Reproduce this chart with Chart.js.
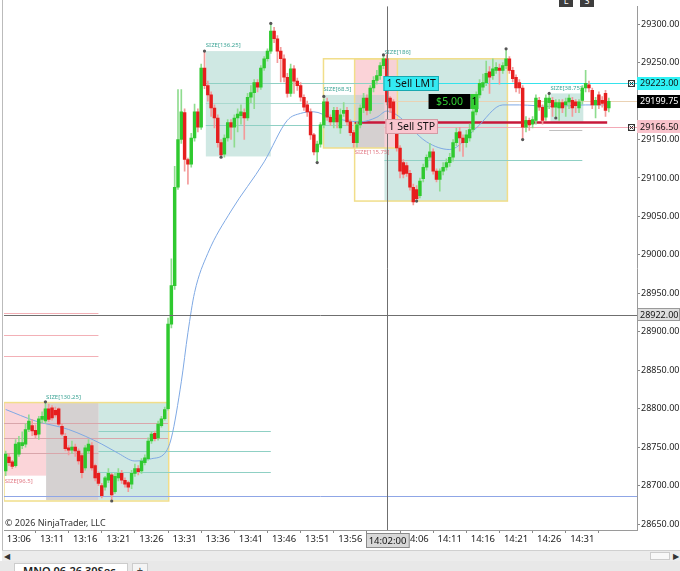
<!DOCTYPE html>
<html lang="en">
<head>
<meta charset="UTF-8">
<title>MNQ 06-26 30Sec</title>
<script src="https://cdn.jsdelivr.net/npm/chart.js"></script>
<style>
  body { margin: 0; background: #fff; width: 680px; height: 571px; overflow: hidden; font-family: "Noto Sans", sans-serif; }
  #wrap { position: relative; width: 680px; height: 550px; }
  #wrap:before { content: ""; position: absolute; left: 2px; top: 0; bottom: 0; border-left: 1px solid #bbb; }
  .btn { position: absolute; top: -6px; width: 14px; height: 13px; background: #3d3d3d; color: #fff; font-size: 9px; line-height: 13px; text-align: center; }
  #scroll { position: absolute; top: 550px; left: 2px; width: 678px; height: 10px; background: #ececec; border-top: 1px solid #d0d0d0; font-size: 8px; line-height: 10px; color: #333; }
  #thumb { position: absolute; right: 10px; top: 1px; width: 20px; height: 8px; background: #f8f8f8; border: 1px solid #ccc; box-sizing: border-box; }
  #tabs { position: absolute; top: 561px; left: 0; width: 680px; height: 10px; background: #e8e8e8; }
  #tab { position: absolute; left: 14px; top: 2px; width: 114px; height: 12px; background: #fff; border: 1px solid #ccc; border-bottom: none; font-size: 11px; font-weight: 600; line-height: 14px; padding-left: 8px; box-sizing: border-box; color: #222; }
  #plus { position: absolute; left: 132px; top: 2px; width: 14px; height: 12px; background: #f4f4f4; border: 1px solid #ccc; font-size: 11px; line-height: 12px; text-align: center; color: #444; }
</style>
</head>
<body>
<div id="wrap">
  <canvas id="chart" width="680" height="550"></canvas>
  <div class="btn" style="left:559px">L</div>
  <div class="btn" style="left:580px">S</div>
</div>
<div id="scroll"><span style="position:absolute;left:2px">&#9664;</span><div id="thumb"></div><span style="position:absolute;right:1px">&#9654;</span></div>
<div id="tabs"><div id="tab">MNQ 06-26 30Sec</div><div id="plus">+</div></div>

<script>
// 30-second bars
const barTimes = [
  '13:04:00','13:04:30','13:05:00','13:05:30','13:06:00','13:06:30','13:07:00','13:07:30','13:08:00','13:08:30',
  '13:09:00','13:09:30','13:10:00','13:10:30','13:11:00','13:11:30','13:12:00','13:12:30','13:13:00','13:13:30',
  '13:14:00','13:14:30','13:15:00','13:15:30','13:16:00','13:16:30','13:17:00','13:17:30','13:18:00','13:18:30',
  '13:19:00','13:19:30','13:20:00','13:20:30','13:21:00','13:21:30','13:22:00','13:22:30','13:23:00','13:23:30',
  '13:24:00','13:24:30','13:25:00','13:25:30','13:26:00','13:26:30','13:27:00','13:27:30','13:28:00','13:28:30',
  '13:29:00','13:29:30','13:30:00','13:30:30','13:31:00','13:31:30','13:32:00','13:32:30','13:33:00','13:33:30',
  '13:34:00','13:34:30','13:35:00','13:35:30','13:36:00','13:36:30','13:37:00','13:37:30','13:38:00','13:38:30',
  '13:39:00','13:39:30','13:40:00','13:40:30','13:41:00','13:41:30','13:42:00','13:42:30','13:43:00','13:43:30',
  '13:44:00','13:44:30','13:45:00','13:45:30','13:46:00','13:46:30','13:47:00','13:47:30','13:48:00','13:48:30',
  '13:49:00','13:49:30','13:50:00','13:50:30','13:51:00','13:51:30','13:52:00','13:52:30','13:53:00','13:53:30',
  '13:54:00','13:54:30','13:55:00','13:55:30','13:56:00','13:56:30','13:57:00','13:57:30','13:58:00','13:58:30',
  '13:59:00','13:59:30','14:00:00','14:00:30','14:01:00','14:01:30','14:02:00','14:02:30','14:03:00','14:03:30',
  '14:04:00','14:04:30','14:05:00','14:05:30','14:06:00','14:06:30','14:07:00','14:07:30','14:08:00','14:08:30',
  '14:09:00','14:09:30','14:10:00','14:10:30','14:11:00','14:11:30','14:12:00','14:12:30','14:13:00','14:13:30',
  '14:14:00','14:14:30','14:15:00','14:15:30','14:16:00','14:16:30','14:17:00','14:17:30','14:18:00','14:18:30',
  '14:19:00','14:19:30','14:20:00','14:20:30','14:21:00','14:21:30','14:22:00','14:22:30','14:23:00','14:23:30',
  '14:24:00','14:24:30','14:25:00','14:25:30','14:26:00','14:26:30','14:27:00','14:27:30','14:28:00','14:28:30',
  '14:29:00','14:29:30','14:30:00','14:30:30','14:31:00','14:31:30','14:32:00','14:32:30','14:33:00','14:33:30',
  '14:34:00','14:34:30','14:35:00','14:35:30','14:36:00','14:36:30','14:37:00','14:37:30','14:38:00','14:38:30',
  '14:39:00'
];
const tickTimes = ['13:06:00','13:11:00','13:16:00','13:21:00','13:26:00','13:31:00','13:36:00','13:41:00','13:46:00',
  '13:51:00','13:56:00','14:01:00','14:06:00','14:11:00','14:16:00','14:21:00','14:26:00','14:31:00'];
const yTicks = [28650, 28700, 28750, 28800, 28850, 28900, 28950, 29000, 29050, 29100, 29150, 29200, 29250, 29300];

const opens = [
  28719,28737,28731,28726,28741,28752,28754,28773,28778,28772,
  28767,28786,28784,28800,28801,28798,28800,28777,28764,28749,
  28746,28750,28745,28739,28723,28745,28752,28726,28716,28700,
  28698,28707,28714,28692,28710,28716,28707,28704,28702,28716,
  28722,28719,28730,28735,28758,28768,28762,28778,28787,28800,
  28910,28960,29088,29150,29185,29124,29118,29152,29186,29166,
  29243,29220,29208,29191,29178,29146,29131,29152,29172,29166,
  29178,29181,29185,29178,29205,29211,29224,29218,29243,29255,
  29265,29291,29281,29265,29255,29231,29210,29242,29226,29220,
  29205,29195,29186,29156,29134,29144,29169,29199,29179,29173,
  29188,29165,29184,29188,29173,29159,29146,29169,29191,29204,
  29188,29217,29227,29233,29246,29255,29204,29199,29160,29139,
  29120,29116,29106,29088,29085,29077,29099,29114,29127,29134,
  29109,29098,29109,29114,29120,29127,29146,29160,29152,29146,
  29152,29163,29186,29208,29218,29224,29238,29233,29240,29243,
  29240,29246,29255,29240,29231,29224,29217,29166,29175,29170,
  29175,29201,29192,29179,29198,29201,29192,29191,29198,29195,
  29199,29201,29199,29191,29201,29217,29221,29214,29195,29208,
  29201,29210,29191
];
const highs = [
  28745,28742,28733,28760,28764,28770,28780,28792,28786,28779,
  28790,28796,28809,28806,28804,28802,28801,28780,28768,28752,
  28758,28754,28748,28741,28752,28760,28756,28728,28718,28703,
  28712,28722,28716,28716,28722,28720,28710,28706,28720,28728,
  28726,28735,28740,28762,28770,28771,28784,28790,28802,28918,
  28995,29115,29215,29215,29190,29126,29158,29196,29190,29248,
  29265,29226,29212,29195,29182,29150,29156,29176,29176,29182,
  29190,29195,29190,29210,29220,29228,29228,29246,29258,29268,
  29301,29296,29285,29270,29260,29236,29248,29246,29230,29224,
  29208,29200,29190,29158,29148,29172,29203,29204,29182,29192,
  29192,29190,29198,29192,29176,29162,29173,29195,29210,29208,
  29220,29232,29240,29250,29260,29260,29206,29202,29165,29142,
  29124,29120,29110,29092,29090,29100,29118,29130,29145,29138,
  29112,29112,29120,29125,29132,29150,29165,29166,29156,29162,
  29170,29190,29212,29228,29235,29252,29245,29255,29250,29248,
  29250,29268,29258,29244,29234,29228,29220,29180,29178,29180,
  29208,29205,29195,29208,29210,29205,29202,29202,29202,29204,
  29208,29205,29202,29202,29220,29240,29226,29217,29205,29212,
  29206,29214,29204
];
const lows = [
  28713,28726,28722,28724,28738,28748,28750,28770,28765,28762,
  28760,28782,28781,28783,28785,28789,28778,28765,28745,28740,
  28742,28738,28728,28710,28720,28742,28720,28706,28700,28684,
  28694,28704,28680,28690,28706,28703,28698,28692,28696,28712,
  28714,28716,28727,28733,28755,28758,28759,28776,28785,28798,
  28905,28955,29085,29145,29109,29092,29114,29148,29160,29163,
  29216,29200,29180,29165,29140,29127,29127,29148,29150,29140,
  29160,29170,29150,29175,29198,29190,29212,29215,29240,29252,
  29262,29276,29250,29225,29225,29205,29206,29210,29214,29200,
  29188,29180,29150,29130,29120,29140,29165,29175,29168,29165,
  29165,29158,29180,29168,29155,29140,29140,29165,29185,29182,
  29184,29212,29222,29228,29242,29195,29185,29170,29135,29100,
  29100,29102,29084,29065,29070,29074,29095,29110,29124,29105,
  29095,29083,29104,29110,29115,29122,29142,29135,29128,29140,
  29148,29160,29182,29204,29214,29220,29210,29228,29236,29222,
  29236,29242,29236,29225,29212,29210,29150,29160,29162,29165,
  29170,29188,29170,29175,29190,29180,29178,29175,29185,29180,
  29190,29180,29185,29185,29196,29212,29212,29190,29178,29190,
  29192,29180,29186
];
const closes = [
  28741,28730,28725,28754,28756,28756,28773,28784,28771,28766,
  28787,28790,28800,28786,28788,28792,28780,28767,28748,28746,
  28750,28745,28732,28717,28749,28754,28723,28710,28703,28687,
  28710,28716,28688,28712,28716,28707,28702,28698,28716,28722,
  28718,28732,28736,28758,28767,28761,28780,28787,28799,28910,
  28960,29088,29150,29186,29124,29118,29152,29186,29166,29243,
  29220,29208,29191,29178,29146,29130,29152,29172,29166,29178,
  29183,29186,29178,29205,29211,29224,29218,29243,29255,29265,
  29291,29281,29265,29255,29231,29210,29242,29226,29220,29205,
  29192,29186,29156,29134,29144,29169,29199,29179,29173,29188,
  29173,29182,29188,29173,29159,29146,29169,29191,29204,29188,
  29217,29227,29233,29246,29255,29199,29191,29173,29139,29109,
  29105,29106,29088,29069,29073,29096,29114,29127,29134,29109,
  29098,29109,29114,29120,29127,29146,29159,29152,29146,29156,
  29163,29186,29208,29223,29224,29236,29231,29242,29244,29240,
  29246,29255,29240,29229,29217,29217,29166,29175,29169,29176,
  29204,29192,29175,29204,29204,29192,29198,29198,29191,29199,
  29204,29191,29194,29199,29217,29223,29217,29195,29201,29195,
  29197,29188,29199.75
];

// moving average: [bar, price]
const emaPts = [[0,28799],[9,28784],[19,28773],[29,28754],[34,28742],[39,28732],[44,28735],[48,28742],
  [50,28762],[53,28835],[55,28899],[57,28951],[61,29002],[68,29057],[78,29121],[85,29175],[89,29184],
  [93,29186],[98,29179],[107,29173],[112,29179],[115,29187],[118,29182],[127,29147],[134,29137],
  [142,29165],[150,29195],[155,29195],[165,29193],[175,29195],[182,29195]];
// swing markers: [bar, price]
const swingPts = [[12,28809],[32,28680],[60,29265],[65,29127],[80,29301],[94,29120],[96,29206],
  [114,29260],[124,29070],[151,29268],[156,29150],[164,29210],[166,29178]];

const lastPrice = 29199.75;
const sellLimit = 29223;
const sellStop = 29166.5;
const crossIdx = 115;
const crossPrice = 28922;
const crossTime = '14:02:00';

// zones in bar index / price units
const zones = [
  {x0: -0.5, x1: 12.2, top: 28808, bot: 28713, fill: '#fbd5d9'},
  {x0: 12.2, x1: 28.1, top: 28808, bot: 28681, fill: '#d5d1d1'},
  {x0: 28.1, x1: 49.2, top: 28808, bot: 28681, fill: '#cfe8e3'},
  {x0: -0.5, x1: 49.2, top: 28808, bot: 28680, stroke: '#f1de8a'},
  {x0: 60.4, x1: 80.0, top: 29265, bot: 29128, fill: '#cfe8e3'},
  {x0: 114.3, x1: 151.4, top: 29255, bot: 29070, fill: '#cfe8e3'},
  {x0: 95.9, x1: 105.3, top: 29208, bot: 29139, fill: '#cfe8e3'},
  {x0: 105.3, x1: 118.2, top: 29255, bot: 29139, fill: 'rgba(251,206,212,0.9)'},
  {x0: 105.3, x1: 114.3, top: 29208, bot: 29139, fill: '#d5d0d0'},
  {x0: 95.9, x1: 118.2, top: 29255, bot: 29139, stroke: '#f1de8a'},
  {x0: 105.3, x1: 151.4, top: 29255, bot: 29070, stroke: '#f1de8a'},
  {x0: 164.4, x1: 174.3, top: 29210, bot: 29173, fill: '#cfe8e3'}
];
const levels = [
  {p: 28924, x0: -0.5, x1: 28, c: '#f3b0b6'},
  {p: 28896, x0: -0.5, x1: 28, c: '#f3b0b6'},
  {p: 28869, x0: -0.5, x1: 28, c: '#f3b0b6'},
  {p: 28781, x0: -0.5, x1: 49, c: '#d9a6ab'},
  {p: 28762, x0: -0.5, x1: 49, c: '#d9a6ab'},
  {p: 28743, x0: -0.5, x1: 28, c: '#d9a6ab'},
  {p: 28771, x0: 28, x1: 80, c: '#8fd0c4'},
  {p: 28745, x0: 28, x1: 80, c: '#8fd0c4'},
  {p: 28718, x0: 28, x1: 80, c: '#8fd0c4'},
  {p: 28686, x0: -0.5, x1: 190.5, c: '#8fa6e6'},
  {p: 29224, x0: 60.4, x1: 114, c: '#8fd0c4'},
  {p: 29197, x0: 60.4, x1: 114, c: '#a9d9cf'},
  {p: 29169, x0: 60.4, x1: 105, c: '#8fd0c4'},
  {p: 29124, x0: 114.3, x1: 174, c: '#8fd0c4'},
  {p: 29163, x0: 164, x1: 174, c: '#c0c0c0'},
  {p: lastPrice, x0: 114.3, x1: 190.5, c: '#ead2b4'},
  {p: sellLimit, x0: 114.3, x1: 190.5, c: '#35e3ec'},
  {p: sellStop, x0: 114.3, x1: 190.5, c: '#f3a9b6'},
  {p: 29173, x0: 105.3, x1: 181.5, c: '#c8183a', w: 2.5}
];
const sizeLabels = [
  {t: 'SIZE[130.25]', i: 12.2, p: 28813, c: '#3fa597'},
  {t: 'SIZE[96.5]', i: -0.3, p: 28704, c: '#e27a86'},
  {t: 'SIZE[136.25]', i: 60.4, p: 29270, c: '#3fa597'},
  {t: 'SIZE[186]', i: 114.3, p: 29261, c: '#3fa597'},
  {t: 'SIZE[68.5]', i: 95.9, p: 29213, c: '#3fa597'},
  {t: 'SIZE[115.75]', i: 105.3, p: 29131, c: '#e27a86'},
  {t: 'SIZE[38.75]', i: 164.4, p: 29215, c: '#3fa597'}
];

const UP = '#2fc92f', DN = '#e61e1e', UPW = '#8fdc8f', DNW = '#f39a9a';
const isUp = i => closes[i] >= opens[i];
const FONT = '"Noto Sans", sans-serif';

function box(ctx, x, y, w, h, fill, stroke) {
  ctx.fillStyle = fill;
  ctx.fillRect(x, y, w, h);
  if (stroke) { ctx.strokeStyle = stroke; ctx.lineWidth = 1; ctx.strokeRect(x + 0.5, y + 0.5, w - 1, h - 1); }
}

const overlay = {
  id: 'ntOverlay',
  beforeDatasetsDraw(chart) {
    const {ctx, chartArea: a, scales: {x, y}} = chart;
    ctx.save();
    ctx.beginPath(); ctx.rect(a.left, a.top, a.right - a.left, a.bottom - a.top); ctx.clip();
    zones.forEach(z => {
      const x0 = x.getPixelForValue(z.x0), x1 = x.getPixelForValue(z.x1);
      const y0 = y.getPixelForValue(z.top), y1 = y.getPixelForValue(z.bot);
      if (z.fill) { ctx.fillStyle = z.fill; ctx.fillRect(x0, y0, x1 - x0, y1 - y0); }
      if (z.stroke) { ctx.strokeStyle = z.stroke; ctx.lineWidth = 1.5; ctx.strokeRect(x0, y0, x1 - x0, y1 - y0); }
    });
    levels.forEach(l => {
      const yy = Math.round(y.getPixelForValue(l.p)) + 0.5;
      ctx.strokeStyle = l.c; ctx.lineWidth = l.w || 1;
      ctx.beginPath(); ctx.moveTo(x.getPixelForValue(l.x0), yy); ctx.lineTo(x.getPixelForValue(l.x1), yy); ctx.stroke();
    });
    ctx.font = '6px ' + FONT; ctx.textBaseline = 'alphabetic';
    sizeLabels.forEach(s => { ctx.fillStyle = s.c; ctx.fillText(s.t, x.getPixelForValue(s.i), y.getPixelForValue(s.p)); });
    ctx.restore();
  },
  afterDatasetsDraw(chart) {
    const {ctx, chartArea: a, scales: {x, y}} = chart;
    ctx.save();
    // crosshair
    const cx = Math.round(x.getPixelForValue(crossIdx)) + 0.5, cy = Math.round(y.getPixelForValue(crossPrice)) + 0.5;
    ctx.strokeStyle = '#6f6f6f'; ctx.lineWidth = 1;
    ctx.beginPath(); ctx.moveTo(cx, a.top); ctx.lineTo(cx, a.bottom); ctx.moveTo(a.left, cy); ctx.lineTo(a.right, cy); ctx.stroke();

    // order tags
    ctx.font = '10.5px ' + FONT; ctx.textBaseline = 'middle';
    const tag = (text, i, p, bg, border) => {
      const w = ctx.measureText(text).width + 6, h = 15;
      const bx = x.getPixelForValue(i), by = Math.round(y.getPixelForValue(p) - h / 2);
      box(ctx, bx, by, w, h, bg, border);
      ctx.fillStyle = '#111'; ctx.fillText(text, bx + 3, by + h / 2 + 0.5);
    };
    tag('1 Sell LMT', 114.0, sellLimit, '#33eaf2', '#19a9b0');
    tag('1 Sell STP', 114.6, sellStop, '#f9c6cf', '#d49aa4');
    // pnl tag
    const py = Math.round(y.getPixelForValue(lastPrice) - 7.5);
    const px0 = x.getPixelForValue(127.6);
    box(ctx, px0, py, 42, 15, '#000');
    ctx.fillStyle = '#34d234'; ctx.textAlign = 'center'; ctx.fillText('$5.00', px0 + 21, py + 8);
    box(ctx, px0 + 42, py, 8, 15, '#32cd32');
    ctx.fillStyle = '#000'; ctx.fillText('1', px0 + 46, py + 8);
    ctx.textAlign = 'left';

    // copyright
    ctx.font = '9px ' + FONT; ctx.fillStyle = '#333'; ctx.textBaseline = 'alphabetic';
    ctx.fillText('\u00a9 2026 NinjaTrader, LLC', a.left + 1, a.bottom - 4);

    // right axis tags
    const rtag = (p, text, bg, fg, border, mark) => {
      const yc = y.getPixelForValue(p), h = 13, bx = a.right;
      box(ctx, bx, Math.round(yc - h / 2), chart.width - bx, h, bg, border);
      ctx.font = '9px ' + FONT; ctx.fillStyle = fg; ctx.textBaseline = 'middle';
      ctx.fillText(text, bx + 3, yc + 0.5);
      if (mark) {
        const mx = a.right - 9, my = Math.round(yc) - 3;
        ctx.strokeStyle = '#333'; ctx.lineWidth = 1;
        ctx.strokeRect(mx + 0.5, my + 0.5, 6, 6);
        ctx.beginPath(); ctx.moveTo(mx + 1.5, my + 1.5); ctx.lineTo(mx + 5.5, my + 5.5);
        ctx.moveTo(mx + 5.5, my + 1.5); ctx.lineTo(mx + 1.5, my + 5.5); ctx.stroke();
      }
    };
    rtag(sellLimit, sellLimit.toFixed(2), '#2ef2f5', '#111', null, true);
    rtag(lastPrice, lastPrice.toFixed(2), '#000', '#fff', null, false);
    rtag(sellStop, sellStop.toFixed(2), '#f9c3cc', '#111', null, true);
    rtag(crossPrice, crossPrice.toFixed(2), '#dedede', '#111', '#9a9a9a', false);

    // x crosshair tag
    ctx.font = '9.5px ' + FONT;
    const tw = ctx.measureText(crossTime).width + 6;
    box(ctx, Math.round(cx - tw / 2), a.bottom + 3, tw, 15, '#d8d8d8', '#8a8a8a');
    ctx.fillStyle = '#111'; ctx.textAlign = 'center'; ctx.textBaseline = 'middle';
    ctx.fillText(crossTime, cx, a.bottom + 11);
    ctx.restore();
  }
};

Chart.defaults.font.family = FONT;
const ctx = document.getElementById('chart').getContext('2d');
new Chart(ctx, {
  data: {
    labels: barTimes,
    datasets: [
      {
        type: 'line', order: 0,
        data: swingPts.map(([i, p]) => ({x: barTimes[i], y: p})),
        showLine: false, pointRadius: 1.6, pointBackgroundColor: '#555', pointBorderWidth: 0
      },
      {
        type: 'bar', order: 1, grouped: false,
        data: opens.map((o, i) => [o, closes[i]]),
        barThickness: 2.8,
        backgroundColor: c => isUp(c.dataIndex) ? UP : DN
      },
      {
        type: 'bar', order: 2, grouped: false,
        data: lows.map((l, i) => [l, highs[i]]),
        barThickness: 1,
        backgroundColor: c => isUp(c.dataIndex) ? UPW : DNW
      },
      {
        type: 'line', order: 3,
        data: emaPts.map(([i, p]) => ({x: barTimes[i], y: p})),
        borderColor: '#7fa9e4', borderWidth: 1, pointRadius: 0,
        cubicInterpolationMode: 'monotone'
      }
    ]
  },
  options: {
    responsive: false,
    animation: false,
    events: [],
    devicePixelRatio: 1,
    layout: {padding: {left: 3, top: 0, right: 0, bottom: 0}},
    plugins: {legend: {display: false}, tooltip: {enabled: false}},
    scales: {
      x: {
        type: 'category', offset: true,
        grid: {drawOnChartArea: false, tickLength: 3, color: '#888'},
        border: {color: '#9a9a9a'},
        ticks: {
          autoSkip: false, maxRotation: 0, padding: 1, color: '#222', font: {size: 9.5},
          callback: v => barTimes[v].slice(0, 5)
        },
        afterBuildTicks: s => { s.ticks = s.ticks.filter(t => tickTimes.includes(barTimes[t.value])); },
        afterFit: s => { s.height = 20; }
      },
      y: {
        position: 'right', min: 28642.3, max: 29323.1,
        grid: {drawOnChartArea: false, tickLength: 3, color: '#888'},
        border: {color: '#9a9a9a'},
        ticks: {padding: 1, color: '#222', font: {size: 9}, callback: v => Number(v).toFixed(2)},
        afterBuildTicks: s => { s.ticks = yTicks.map(v => ({value: v})); },
        afterFit: s => { s.width = 43; }
      }
    }
  },
  plugins: [overlay]
});
</script>
</body>
</html>
